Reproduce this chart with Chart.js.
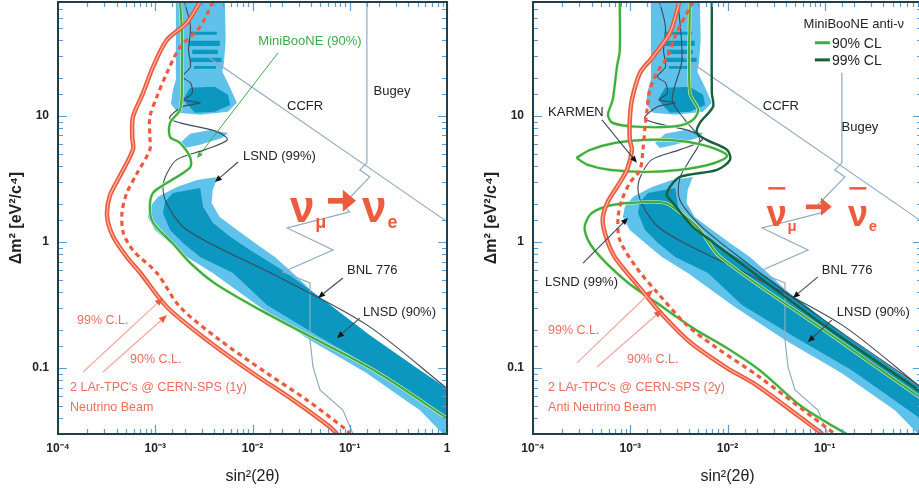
<!DOCTYPE html>
<html>
<head>
<meta charset="utf-8">
<script src="https://cdn.jsdelivr.net/npm/chart.js@4.4.1/dist/chart.umd.min.js"></script>
<style>
  html, body { margin: 0; padding: 0; background: #fff; width: 919px; height: 495px; overflow: hidden; }
  .panel { position: absolute; top: 0; width: 460px; height: 495px; }
  #leftPanel  { left: 0; }
  #rightPanel { left: 475px; }
</style>
</head>
<body>
<div class="panel" id="leftPanel"><canvas id="leftChart" width="460" height="495"></canvas></div>
<div class="panel" id="rightPanel"><canvas id="rightChart" width="460" height="495"></canvas></div>
<script>
/* ─── axes ─── */
const X_RANGE = [1e-4, 1];
const Y_RANGE = [0.03, 80];
const xDecades = [1e-4, 1e-3, 1e-2, 1e-1, 1];
const xDecadeLabels = ['10⁻⁴', '10⁻³', '10⁻²', '10⁻¹', '1'];
const yDecades = [0.1, 1, 10];
const yDecadeLabels = ['0.1', '1', '10'];

/* ─── LSND allowed regions, [sin²2θ, Δm²] ─── */
const lsndOuterTop = [[1.63e-3,80],[5.2e-3,80],[5.3e-3,40],[5.1e-3,26.8],[4.9e-3,22.4],[5.9e-3,16.7],[6.9e-3,12.7],[5.6e-3,10.8],[2.9e-3,10.2],[1.71e-3,10.6],[1.45e-3,12.5],[1.52e-3,16.1],[1.63e-3,19.3],[1.63e-3,80]];
const lsndOuterPatch = [[1.8e-3,6.1],[2.28e-3,7.2],[3.66e-3,7.74],[5.6e-3,7.33],[4.86e-3,6.69],[2.88e-3,5.89],[2.02e-3,5.57],[1.8e-3,6.1]];
const lsndOuterBand = [[4.4e-3,3.28],[3.9e-3,2.59],[3.8e-3,2.04],[4.6e-3,1.58],[6.9e-3,1.25],[1.06e-2,0.98],[1.7e-2,0.76],[2.6e-2,0.567],[4.2e-2,0.40],[6.7e-2,0.305],[0.173,0.167],[0.49,0.091],[1,0.067],[1,0.03],[0.91,0.03],[0.53,0.046],[0.15,0.091],[3.9e-2,0.167],[1.19e-2,0.305],[3.9e-3,0.567],[2.12e-3,0.76],[1.42e-3,0.98],[9.9e-4,1.245],[8.4e-4,1.58],[8.8e-4,1.9],[1.07e-3,2.28],[1.67e-3,2.73],[2.69e-3,3.10],[4.4e-3,3.28]];
const lsndInnerBlob = [[1.93e-3,13.4],[2.28e-3,16.7],[4.1e-3,17],[5.6e-3,14.7],[5.9e-3,12.2],[4.1e-3,10.8],[2.56e-3,10.6],[1.93e-3,13.4]];
// [xLo, xHi, yLo, yHi]
const lsndInnerStripes = [[2.3e-3,4.3e-3,43.9,46.4],[2.2e-3,4.6e-3,35.9,39.4],[2.4e-3,4.4e-3,31.0,33.4],[2.3e-3,4.8e-3,26.8,28.9],[2.5e-3,4.2e-3,23.6,24.9]];
const lsndInnerBand = [[2.9e-3,2.68],[3.1e-3,1.9],[3.9e-3,1.42],[5.9e-3,1.10],[9.4e-3,0.864],[2.26e-2,0.567],[6.3e-2,0.316],[0.16,0.183],[0.49,0.1],[1,0.069],[1,0.039],[0.19,0.096],[4.9e-2,0.176],[1.41e-2,0.316],[6.3e-3,0.567],[2.9e-3,0.76],[1.93e-3,0.98],[1.42e-3,1.245],[1.2e-3,1.7],[1.26e-3,2.08],[1.52e-3,2.45],[2.9e-3,2.68]];

/* ─── other experiments ─── */
const ccfrLine = [[3.25e-3,30.5],[1,1.45]];
const bugeyLine = [[0.150,80],[0.150,4.24],[0.127,3.73],[0.161,3.28],[0.085,1.97],[0.1,1.73],[0.0227,1.29],[0.0673,0.864],[0.0206,0.578],[0.039,0.473],[0.039,0.167],[0.0419,0.102],[0.0494,0.067],[0.085,0.0464],[0.108,0.03]];
const bnl776Line = [[2.0e-3,80],[2.3e-3,51],[2.2e-3,33],[2.3e-3,24.5],[1.9e-3,20.4],[2.3e-3,18.3],[2.4e-3,15.2],[2.0e-3,13.4],[2.9e-3,12.7],[1.9e-3,11.8],[1.4e-3,9.6],[1.8e-3,8.8],[4.3e-3,7.5],[5.5e-3,6.45],[3.25e-3,5.4],[1.67e-3,4.5],[1.32e-3,3.5],[1.2e-3,2.7],[1.32e-3,2.0],[1.93e-3,1.32],[3.9e-3,0.95],[1.92e-2,0.52],[0.15,0.22],[1,0.069]];
const karmenAntiLine = [[3.1e-3,80],[3.4e-3,27.8],[2.7e-3,13.4],[3.65e-3,9.3],[5.2e-3,6.45],[4.1e-3,4.48],[3.24e-3,3.22],[3.24e-3,2.15],[5.2e-3,1.36],[1.06e-2,0.864],[8.3e-2,0.263],[1,0.07]];
const bugeyRightTop = 22;

/* ─── MiniBooNE ─── */
const miniBooNE90 = [[1.8e-3,80],[1.88e-3,46],[1.88e-3,18.3],[1.8e-3,11.2],[1.42e-3,8.8],[1.42e-3,6.8],[1.8e-3,6.1],[2.28e-3,4.7],[2.28e-3,3.9],[1.32e-3,2.94],[9.5e-4,2.45],[8.8e-4,1.9],[9.5e-4,1.42],[1.5e-3,0.98],[2.3e-3,0.68],[4.1e-3,0.47],[1.19e-2,0.29],[4.2e-2,0.173],[0.19,0.093],[1,0.04]];
const mbAnti90Top = [[7.8e-4,80],[7.8e-4,33],[7.3e-4,24.5],[6.6e-4,13.4],[5.9e-4,10.2],[6.6e-4,8.8],[1.17e-3,8.2],[3.0e-3,8.3],[4.4e-3,9.3],[5.0e-3,11.2],[4.1e-3,15.2],[4.1e-3,80]];
const mbAnti90Ring = [[2.8e-4,4.64],[3.85e-4,5.37],[7.0e-4,6.1],[1.42e-3,6.45],[3.24e-3,6.34],[6.6e-3,5.67],[9.9e-3,4.82],[6.9e-3,4.16],[3.24e-3,3.73],[1.42e-3,3.59],[6.2e-4,3.73],[3.7e-4,4.08],[2.8e-4,4.64]];
const mbAnti90Low = [[1,0.057],[8.9e-2,0.211],[8.4e-3,0.76],[5.2e-3,1.245],[3.5e-3,1.64],[2.27e-3,2.04],[9.9e-4,2.04],[5.5e-4,1.9],[3.85e-4,1.64],[3.4e-4,1.25],[4.3e-4,0.86],[9.25e-4,0.482],[1.88e-3,0.328],[4.4e-3,0.208],[9.9e-3,0.144],[2.15e-2,0.096],[5.5e-2,0.051],[0.105,0.037],[0.169,0.03]];
const mbAnti99 = [[6.9e-3,80],[6.9e-3,15.2],[7.1e-3,11.8],[5.2e-3,8.8],[4.85e-3,7.33],[6.1e-3,6.45],[9.9e-3,5.37],[1.06e-2,4.48],[7.8e-3,3.73],[3.24e-3,3.28],[2.56e-3,2.73],[2.38e-3,2.36],[2.75e-3,2.04],[4.4e-3,1.32],[6.6e-3,1.04],[8.4e-3,0.9],[8.3e-2,0.24],[1,0.064]];

/* ─── LAr-TPC sensitivity ─── */
const nuSens99 = [[2.88e-3,80],[2.12e-3,55],[1.32e-3,40],[9.5e-4,24.5],[7.5e-4,15.2],[5.9e-4,9.8],[5.8e-4,6.8],[5.9e-4,5.4],[4.3e-4,3.3],[3.4e-4,2.3],[3.2e-4,1.58],[3.7e-4,1.1],[5.1e-4,0.76],[7.0e-4,0.57],[1.32e-3,0.305],[3.4e-3,0.167],[1.01e-2,0.091],[2.6e-2,0.056],[6.3e-2,0.034],[7.4e-2,0.03]];
const nuSens90 = [[3.9e-3,80],[2.9e-3,51],[1.8e-3,35],[1.32e-3,22],[1.04e-3,14.2],[8.8e-4,9.8],[8.8e-4,6.8],[8.8e-4,5.4],[6.5e-4,3.5],[5.1e-4,2.45],[4.55e-4,1.7],[4.7e-4,1.18],[5.9e-4,0.86],[1.04e-3,0.567],[1.8e-3,0.305],[4.6e-3,0.167],[1.41e-2,0.091],[3.6e-2,0.056],[9.4e-2,0.032],[0.1,0.03]];
const antiSens99 = [[3.2e-3,80],[2.56e-3,45.6],[1.71e-3,29.4],[1.26e-3,21.9],[1.04e-3,13.4],[9.9e-4,9.3],[9.9e-4,6.45],[1.04e-3,5.37],[9.25e-4,3.73],[7.3e-4,2.73],[5.8e-4,2.04],[5.2e-4,1.49],[5.76e-4,1.04],[7.0e-4,0.75],[1.26e-3,0.43],[2.02e-3,0.278],[4.1e-3,0.161],[9.9e-3,0.1],[2.0e-2,0.073],[9.5e-2,0.03]];
const antiSens90 = [[4.4e-3,80],[3.0e-3,45.6],[2.4e-3,29.4],[1.88e-3,21.9],[1.59e-3,16.1],[1.49e-3,11.2],[1.42e-3,8.2],[1.35e-3,5.4],[1.26e-3,3.73],[9.9e-4,2.94],[8.2e-4,2.15],[7.5e-4,1.58],[7.8e-4,1.04],[1.17e-3,0.62],[1.88e-3,0.40],[3.8e-3,0.22],[7.8e-3,0.144],[2.0e-2,0.088],[0.127,0.03]];

/* ─── look ─── */
const FONT = '"Liberation Sans", Arial, sans-serif';
const LIGHT_BLUE = '#5fc2ea';
const DARK_BLUE = '#0b97c0';
const RED = '#ee5a3d';
const RED_CORE = '#fbc0b0';
const GREEN = '#38ad4b';
const GREEN_HALO = '#eaf1b4';
const DARK_GREEN = '#17603a';
const GRAY_LINE = '#8fabc2';
const DARK_LINE = '#3b4b57';
const TEXT = '#232323';
const PINK_TEXT = '#ee6d5e';
const PINK_LINE = '#f3aaa0';
const TICK = '#5b9bcf';
const FRAME = '#203f4d';

const pts = arr => arr.map(([x, y]) => ({ x, y }));
const rect = ([x0, x1, y0, y1]) => [[x0, y0], [x1, y0], [x1, y1], [x0, y1], [x0, y0]];

function region(arr, color, order) {
  return { data: pts(arr), fill: 'shape', backgroundColor: color, borderWidth: 0, pointRadius: 0, tension: 0, order };
}
function curve(arr, color, width, order, extra) {
  return Object.assign({ data: pts(arr), fill: false, borderColor: color, borderWidth: width,
    pointRadius: 0, tension: 0.3, order }, extra || {});
}

function lsndSets() {
  return [
    region(lsndOuterTop, LIGHT_BLUE, 20),
    region(lsndOuterPatch, LIGHT_BLUE, 20),
    region(lsndOuterBand, LIGHT_BLUE, 20),
    region(lsndInnerBlob, DARK_BLUE, 19),
    ...lsndInnerStripes.map(s => region(rect(s), DARK_BLUE, 19)),
    region(lsndInnerBand, DARK_BLUE, 19)
  ];
}

const leftSets = [
  ...lsndSets(),
  curve(ccfrLine, GRAY_LINE, 1.2, 12, { tension: 0 }),
  curve(bugeyLine, GRAY_LINE, 1.2, 12, { tension: 0 }),
  curve(bnl776Line, DARK_LINE, 1.1, 11),
  curve(miniBooNE90, GREEN_HALO, 3.4, 10),
  curve(miniBooNE90, GREEN, 2.2, 9),
  curve(nuSens90, RED, 3.2, 6, { borderDash: [5, 4] }),
  curve(nuSens99, RED, 4.5, 5),
  curve(nuSens99, RED_CORE, 1.1, 4)
];

const rightSets = [
  ...lsndSets(),
  curve(ccfrLine, GRAY_LINE, 1.2, 12, { tension: 0 }),
  curve(bugeyLine.map(([x, y]) => [x, Math.min(y, bugeyRightTop)]), GRAY_LINE, 1.2, 12, { tension: 0 }),
  curve(bnl776Line, DARK_LINE, 1.1, 11),
  curve(karmenAntiLine, DARK_LINE, 1.1, 11),
  curve(mbAnti99, DARK_GREEN, 2.4, 8),
  curve(mbAnti90Top, GREEN_HALO, 3.4, 10),
  curve(mbAnti90Top, GREEN, 2.2, 9),
  curve(mbAnti90Ring, GREEN_HALO, 3.4, 10),
  curve(mbAnti90Ring, GREEN, 2.2, 9),
  curve(mbAnti90Low, GREEN_HALO, 3.4, 10),
  curve(mbAnti90Low, GREEN, 2.2, 9),
  curve(antiSens90, RED, 3.2, 6, { borderDash: [5, 4] }),
  curve(antiSens99, RED, 4.5, 5),
  curve(antiSens99, RED_CORE, 1.1, 4)
];

/* ─── annotations (anchors in data units) ─── */
const LABEL_FONT = `13px ${FONT}`;
const PINK_FONT = `12.5px ${FONT}`;

const leftNotes = [
  { kind: 'text', text: 'MiniBooNE (90%)', at: [3.9e-2, 38.7], color: GREEN, align: 'center' },
  { kind: 'arrow', from: [1.83e-2, 31.6], to: [2.69e-3, 4.64], color: GREEN, head: 6, width: 1 },
  { kind: 'text', text: 'CCFR', at: [3.47e-2, 11.8], align: 'center' },
  { kind: 'text', text: 'Bugey', at: [0.272, 15.5], align: 'center' },
  { kind: 'text', text: 'LSND (99%)', at: [7.98e-3, 4.73] },
  { kind: 'arrow', from: [7.1e-3, 4.31], to: [4.11e-3, 2.99] },
  { kind: 'nu', at: [2.43e-2, 1.44], sub: 'μ', size: 44 },
  { kind: 'bigArrow', from: [5.97e-2, 2.12], to: [0.116, 2.12], size: 44 },
  { kind: 'nu', at: [0.134, 1.44], sub: 'e', size: 44 },
  { kind: 'text', text: 'BNL 776', at: [9.37e-2, 0.6] },
  { kind: 'arrow', from: [8.5e-2, 0.518], to: [4.72e-2, 0.36] },
  { kind: 'text', text: 'LNSD (90%)', at: [0.137, 0.278] },
  { kind: 'arrow', from: [0.127, 0.249], to: [7.39e-2, 0.173] },
  { kind: 'text', text: '99% C.L.', at: [1.57e-4, 0.24], color: PINK_TEXT, font: PINK_FONT },
  { kind: 'text', text: '90% C.L.', at: [5.5e-4, 0.116], color: PINK_TEXT, font: PINK_FONT },
  { kind: 'text', text: "2 LAr-TPC's @ CERN-SPS (1y)", at: [1.33e-4, 0.0707], color: PINK_TEXT, font: PINK_FONT },
  { kind: 'text', text: 'Neutrino Beam', at: [1.33e-4, 0.049], color: PINK_TEXT, font: PINK_FONT },
  { kind: 'arrow', from: [1.81e-4, 0.093], to: [1.2e-3, 0.36], color: PINK_LINE, headColor: RED, head: 8, width: 1.3 },
  { kind: 'arrow', from: [2.9e-4, 0.093], to: [1.32e-3, 0.263], color: PINK_LINE, headColor: RED, head: 8, width: 1.3 }
];

const rightNotes = [
  { kind: 'text', text: 'MiniBooNE anti-ν', at: [0.199, 52.7], align: 'center' },
  { kind: 'key', at: [7.91e-2, 38], to: 0.113, text: '90% CL', color: GREEN },
  { kind: 'key', at: [7.91e-2, 27.8], to: 0.113, text: '99% CL', color: DARK_GREEN },
  { kind: 'text', text: 'KARMEN', at: [1.43e-4, 10.6] },
  { kind: 'arrow', from: [5.12e-4, 9.29], to: [1.17e-3, 4.24], color: DARK_LINE },
  { kind: 'text', text: 'CCFR', at: [3.54e-2, 11.8], align: 'center' },
  { kind: 'text', text: 'Bugey', at: [0.23, 8.03], align: 'center' },
  { kind: 'text', text: 'LSND (99%)', at: [1.33e-4, 0.482] },
  { kind: 'arrow', from: [3.27e-4, 0.68], to: [9.47e-4, 1.55] },
  { kind: 'nu', at: [2.54e-2, 1.34], sub: 'μ', size: 36, bar: true },
  { kind: 'bigArrow', from: [6.4e-2, 1.9], to: [0.118, 1.9], size: 36 },
  { kind: 'nu', at: [0.173, 1.34], sub: 'e', size: 36, bar: true },
  { kind: 'text', text: 'BNL 776', at: [9.33e-2, 0.6] },
  { kind: 'arrow', from: [8.49e-2, 0.528], to: [4.7e-2, 0.36] },
  { kind: 'text', text: 'LNSD (90%)', at: [0.133, 0.278] },
  { kind: 'arrow', from: [0.118, 0.24], to: [6.7e-2, 0.161] },
  { kind: 'text', text: '99% C.L.', at: [1.43e-4, 0.2], color: PINK_TEXT, font: PINK_FONT },
  { kind: 'text', text: '90% C.L.', at: [9.25e-4, 0.116], color: PINK_TEXT, font: PINK_FONT },
  { kind: 'text', text: "2 LAr-TPC's @ CERN-SPS (2y)", at: [1.43e-4, 0.0707], color: PINK_TEXT, font: PINK_FONT },
  { kind: 'text', text: 'Anti Neutrino Beam', at: [1.43e-4, 0.049], color: PINK_TEXT, font: PINK_FONT },
  { kind: 'arrow', from: [2.83e-4, 0.11], to: [1.71e-3, 0.416], color: PINK_LINE, headColor: RED, head: 8, width: 1.3 },
  { kind: 'arrow', from: [4.55e-4, 0.102], to: [2.12e-3, 0.289], color: PINK_LINE, headColor: RED, head: 8, width: 1.3 }
];

/* ─── drawing helpers ─── */
function drawArrow(ctx, x1, y1, x2, y2, n) {
  const h = n.head || 7;
  const ang = Math.atan2(y2 - y1, x2 - x1);
  const bx = x2 - h * Math.cos(ang), by = y2 - h * Math.sin(ang);
  ctx.strokeStyle = n.color || DARK_LINE;
  ctx.lineWidth = n.width || 1.1;
  ctx.beginPath(); ctx.moveTo(x1, y1); ctx.lineTo(bx, by); ctx.stroke();
  const w = h * 0.42;
  ctx.fillStyle = n.headColor || (n.color && n.color !== DARK_LINE ? n.color : '#111');
  ctx.beginPath();
  ctx.moveTo(x2, y2);
  ctx.lineTo(bx + w * Math.sin(ang), by - w * Math.cos(ang));
  ctx.lineTo(bx - w * Math.sin(ang), by + w * Math.cos(ang));
  ctx.closePath(); ctx.fill();
}

function drawNote(ctx, sx, sy, n) {
  const px = v => sx.getPixelForValue(v), py = v => sy.getPixelForValue(v);
  if (n.kind === 'text') {
    ctx.font = n.font || LABEL_FONT;
    ctx.fillStyle = n.color || TEXT;
    ctx.textAlign = n.align || 'left';
    ctx.textBaseline = 'middle';
    ctx.fillText(n.text, px(n.at[0]), py(n.at[1]));
  } else if (n.kind === 'arrow') {
    drawArrow(ctx, px(n.from[0]), py(n.from[1]), px(n.to[0]), py(n.to[1]), n);
  } else if (n.kind === 'key') {
    const x0 = px(n.at[0]), x1 = px(n.to), y = py(n.at[1]);
    ctx.strokeStyle = n.color; ctx.lineWidth = 3;
    ctx.beginPath(); ctx.moveTo(x0, y); ctx.lineTo(x1, y); ctx.stroke();
    ctx.font = `14px ${FONT}`; ctx.fillStyle = TEXT;
    ctx.textAlign = 'left'; ctx.textBaseline = 'middle';
    ctx.fillText(n.text, x1 + 2, y + 1);
  } else if (n.kind === 'nu') {
    const F = n.size, x0 = px(n.at[0]), base = py(n.at[1]);
    ctx.fillStyle = RED; ctx.textAlign = 'left'; ctx.textBaseline = 'alphabetic';
    ctx.font = `bold ${F}px ${FONT}`;
    ctx.fillText('ν', x0, base);
    const w = ctx.measureText('ν').width;
    if (n.bar) ctx.fillRect(x0 + 0.04 * F, base - 1.08 * F, w * 0.85, Math.max(2, F * 0.07));
    ctx.font = `bold ${Math.round(F * 0.42)}px ${FONT}`;
    ctx.fillText(n.sub, x0 + w + 0.02 * F, base + 0.14 * F);
  } else if (n.kind === 'bigArrow') {
    const F = n.size, x1 = px(n.from[0]), x2 = px(n.to[0]), y = py(n.from[1]);
    const hl = 0.3 * F, hw = 0.25 * F;
    ctx.strokeStyle = RED; ctx.fillStyle = RED; ctx.lineWidth = 0.13 * F;
    ctx.beginPath(); ctx.moveTo(x1, y); ctx.lineTo(x2 - hl + 2, y); ctx.stroke();
    ctx.beginPath(); ctx.moveTo(x2, y); ctx.lineTo(x2 - hl, y - hw); ctx.lineTo(x2 - hl, y + hw);
    ctx.closePath(); ctx.fill();
  }
}

const panelDecor = {
  id: 'panelDecor',
  afterDatasetsDraw(chart, args, opts) {
    const { ctx, chartArea: a, scales: { x, y } } = chart;
    ctx.save();
    // inward tick marks on all four sides
    ctx.strokeStyle = TICK;
    ctx.lineWidth = 1.2;
    ctx.beginPath();
    x.ticks.forEach(t => {
      const p = Math.round(x.getPixelForValue(t.value)) + 0.5;
      const len = t.label ? 9 : 5;
      ctx.moveTo(p, a.bottom); ctx.lineTo(p, a.bottom - len);
      ctx.moveTo(p, a.top); ctx.lineTo(p, a.top + len);
    });
    y.ticks.forEach(t => {
      const p = Math.round(y.getPixelForValue(t.value)) + 0.5;
      const len = t.label ? 9 : 5;
      ctx.moveTo(a.left, p); ctx.lineTo(a.left + len, p);
      ctx.moveTo(a.right, p); ctx.lineTo(a.right - len, p);
    });
    ctx.stroke();
    // frame
    ctx.strokeStyle = FRAME;
    ctx.lineWidth = 2;
    ctx.strokeRect(a.left, a.top, a.width, a.height);
    // labels and arrows
    (opts.notes || []).forEach(n => drawNote(ctx, x, y, n));
    ctx.restore();
  }
};

function decadeLabel(decades, labels) {
  return value => {
    const i = decades.findIndex(d => Math.abs(Math.log10(value) - Math.log10(d)) < 1e-9);
    return i >= 0 ? labels[i] : '';
  };
}

function makeConfig(datasets, notes) {
  return {
    type: 'line',
    data: { datasets },
    plugins: [panelDecor],
    options: {
      responsive: false,
      animation: false,
      events: [],
      layout: { padding: { top: 2, right: 13, bottom: 0, left: 0 } },
      plugins: {
        legend: { display: false },
        tooltip: { enabled: false },
        panelDecor: { notes }
      },
      scales: {
        x: {
          type: 'logarithmic',
          min: X_RANGE[0], max: X_RANGE[1],
          afterFit: s => { s.height = 61; s.paddingLeft = 0; s.paddingRight = 0; },
          grid: { display: false, drawTicks: false },
          border: { display: false },
          ticks: {
            autoSkip: false, maxRotation: 0, padding: 7,
            color: TEXT, font: { family: FONT, size: 12, weight: 'bold' },
            callback: decadeLabel(xDecades, xDecadeLabels)
          },
          title: {
            display: true, text: 'sin²(2θ)', color: TEXT,
            font: { family: FONT, size: 16 },
            padding: { top: 0, bottom: 9 }
          }
        },
        y: {
          type: 'logarithmic',
          min: Y_RANGE[0], max: Y_RANGE[1],
          afterFit: s => { s.width = 58; s.paddingTop = 0; s.paddingBottom = 0; },
          grid: { display: false, drawTicks: false },
          border: { display: false },
          ticks: {
            autoSkip: false, padding: 9,
            color: TEXT, font: { family: FONT, size: 12, weight: 'bold' },
            callback: decadeLabel(yDecades, yDecadeLabels)
          },
          title: {
            display: true, text: 'Δm² [eV²/c⁴]', color: TEXT,
            font: { family: FONT, size: 16, weight: 'bold' },
            padding: { top: 7, bottom: 0 }
          }
        }
      }
    }
  };
}

new Chart(document.getElementById('leftChart'), makeConfig(leftSets, leftNotes));
new Chart(document.getElementById('rightChart'), makeConfig(rightSets, rightNotes));
</script>
</body>
</html>
